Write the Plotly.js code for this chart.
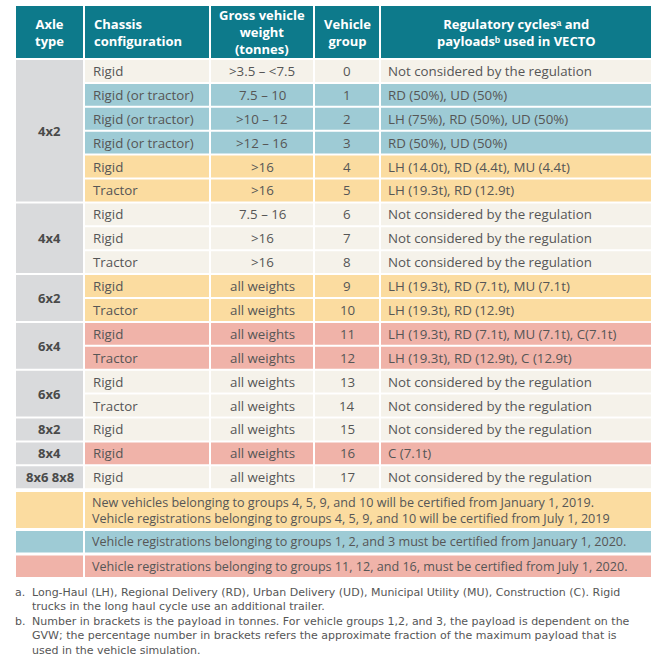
<!DOCTYPE html>
<html>
<head>
<meta charset="utf-8">
<script src="https://cdn.plot.ly/plotly-3.0.1.min.js"></script>
<style>html,body{margin:0;padding:0;background:#fff}</style>
</head>
<body>
<div id="chart" style="width:670px;height:660px"></div>
<script>
// ---- data ----
const headers = ["Axle<br>type", "Chassis<br>configuration", "Gross vehicle<br>weight<br>(tonnes)", "Vehicle<br>group", "Regulatory cycles\u1D43 and<br>payloads\u1D47 used in VECTO"];
const axleLabels = ["4x2", "4x4", "6x2", "6x4", "6x6", "8x2", "8x4", "8x6 8x8"];
const axleSpans = [6, 3, 2, 2, 2, 1, 1, 1];
const chassis = ["Rigid", "Rigid (or tractor)", "Rigid (or tractor)", "Rigid (or tractor)", "Rigid", "Tractor",
  "Rigid", "Rigid", "Tractor", "Rigid", "Tractor", "Rigid", "Tractor", "Rigid", "Tractor", "Rigid", "Rigid", "Rigid"];
const gvw = [">3.5 – <7.5", "7.5 – 10", ">10 – 12", ">12 – 16", ">16", ">16", "7.5 – 16", ">16", ">16",
  "all weights", "all weights", "all weights", "all weights", "all weights", "all weights", "all weights", "all weights", "all weights"];
const groups = ["0", "1", "2", "3", "4", "5", "6", "7", "8", "9", "10", "11", "12", "13", "14", "15", "16", "17"];
const cycles = ["Not considered by the regulation", "RD (50%), UD (50%)", "LH (75%), RD (50%), UD (50%)", "RD (50%), UD (50%)",
  "LH (14.0t), RD (4.4t), MU (4.4t)", "LH (19.3t), RD (12.9t)", "Not considered by the regulation",
  "Not considered by the regulation", "Not considered by the regulation", "LH (19.3t), RD (7.1t), MU (7.1t)",
  "LH (19.3t), RD (12.9t)", "LH (19.3t), RD (7.1t), MU (7.1t), C(7.1t)", "LH (19.3t), RD (12.9t), C (12.9t)",
  "Not considered by the regulation", "Not considered by the regulation", "Not considered by the regulation",
  "C (7.1t)", "Not considered by the regulation"];
const rowStatus = ["none", "2020jan", "2020jan", "2020jan", "2019", "2019", "none", "none", "none", "2019", "2019",
  "2020jul", "2020jul", "none", "none", "none", "2020jul", "none"];
const footerStatus = ["2019", "2020jan", "2020jul"];
const footerText = [
  ["New vehicles belonging to groups 4, 5, 9, and 10 will be certified from January 1, 2019.",
   "Vehicle registrations belonging to groups 4, 5, 9, and 10 will be certified from July 1, 2019"],
  ["Vehicle registrations belonging to groups 1, 2, and 3 must be certified from January 1, 2020."],
  ["Vehicle registrations belonging to groups 11, 12, and 16, must be certified from July 1, 2020."]
];
const footnoteMarks = ["a.", "b."];
const footnotes = [
  ["Long-Haul (LH), Regional Delivery (RD), Urban Delivery (UD), Municipal Utility (MU), Construction (C). Rigid",
   "trucks in the long haul cycle use an additional trailer."],
  ["Number in brackets is the payload in tonnes. For vehicle groups 1,2, and 3, the payload is dependent on the",
   "GVW; the percentage number in brackets refers the approximate fraction of the maximum payload that is",
   "used in the vehicle simulation."]
];

// ---- styling / geometry ----
const colors = { none: "#f5f2ea", "2020jan": "#9ecbd5", "2019": "#fbdca0", "2020jul": "#f0b3a9" };
const headerColor = "#0d7a8b";
const axleColor = "#d9dadc";
const textColor = "#565656";
const FONT = "Open Sans, sans-serif";
const FN_FONT = "DejaVu Sans, sans-serif";
const colX = [15, 84, 210, 314, 380, 652];
const headTop = 6, headBot = 58;
const rowTop = 59, rowH = 23.9;
const footTops = [491, 530, 554.5], footBots = [529, 553.5, 578];
const g = 1;

const esc = s => s.replace(/</g, "&lt;").replace(/>/g, "&gt;");
const shapes = [], ann = [];
function rect(x0, x1, y0, y1, c) {
  shapes.push({ type: "rect", xref: "x", yref: "y", x0: x0 + g, x1: x1 - g, y0: y0 + g, y1: y1 - g,
    fillcolor: c, line: { width: 0 }, layer: "below" });
}
function text(t, x, y, anchor, opts) {
  ann.push(Object.assign({ text: t, x: x, y: y, xref: "x", yref: "y", xanchor: anchor, yanchor: "middle",
    showarrow: false, align: anchor === "center" ? "center" : "left",
    font: { family: FONT, size: 13.3, color: textColor } }, opts || {}));
}

// header
for (let c = 0; c < 5; c++) {
  rect(colX[c], colX[c + 1], headTop - g, headBot + g, headerColor);
  const anchor = c === 1 ? "left" : "center";
  const x = c === 1 ? colX[1] + 8 : (colX[c] + colX[c + 1]) / 2;
  text(headers[c], x, (headTop + headBot) / 2, anchor, { font: { family: FONT, size: 13, color: "#ffffff", weight: 700 } });
}
// body rows
for (let i = 0; i < chassis.length; i++) {
  const y0 = rowTop + i * rowH, y1 = y0 + rowH, ym = (y0 + y1) / 2;
  const c = colors[rowStatus[i]];
  for (let k = 1; k < 5; k++) rect(colX[k], colX[k + 1], y0, y1, c);
  text(esc(chassis[i]), colX[1] + 7, ym, "left");
  text(esc(gvw[i]), (colX[2] + colX[3]) / 2, ym, "center");
  text(groups[i], (colX[3] + colX[4]) / 2, ym, "center");
  text(esc(cycles[i]), colX[4] + 6, ym, "left");
}
// axle column (merged)
let start = 0;
axleLabels.forEach((lab, j) => {
  const y0 = rowTop + start * rowH, y1 = rowTop + (start + axleSpans[j]) * rowH;
  rect(colX[0], colX[1], y0, y1, axleColor);
  text(lab, (colX[0] + colX[1]) / 2, (y0 + y1) / 2, "center", { font: { family: FONT, size: 13, color: "#4a4a4a", weight: 700 } });
  start += axleSpans[j];
});
// footer legend rows
footerStatus.forEach((s, j) => {
  rect(colX[0], colX[1], footTops[j], footBots[j], colors[s]);
  rect(colX[1], colX[5], footTops[j], footBots[j], colors[s]);
  const mid = (footTops[j] + footBots[j]) / 2;
  text(footerText[j].join("<br>"), colX[1] + 7, mid, "left", { font: { family: FONT, size: 12.6, color: textColor }, borderpad: 0 });
});
// footnotes (one block per footnote, hanging mark)
const fnTop = [585, 613.5];
footnotes.forEach((lines, j) => {
  text(footnoteMarks[j], 14, fnTop[j], "left", { yanchor: "top", borderpad: 0, font: { family: FN_FONT, size: 11, color: textColor } });
  text(lines.join("<br>"), 31, fnTop[j], "left", { yanchor: "top", borderpad: 0, font: { family: FN_FONT, size: 11, color: textColor } });
});

Plotly.newPlot("chart", [{ type: "scatter", x: [], y: [], hoverinfo: "skip" }], {
  width: 670, height: 660,
  margin: { l: 0, r: 0, t: 0, b: 0 },
  paper_bgcolor: "#ffffff", plot_bgcolor: "#ffffff",
  showlegend: false,
  xaxis: { range: [0, 670], visible: false, fixedrange: true },
  yaxis: { range: [660, 0], visible: false, fixedrange: true },
  shapes: shapes, annotations: ann
}, { staticPlot: true });
</script>
</body>
</html>
